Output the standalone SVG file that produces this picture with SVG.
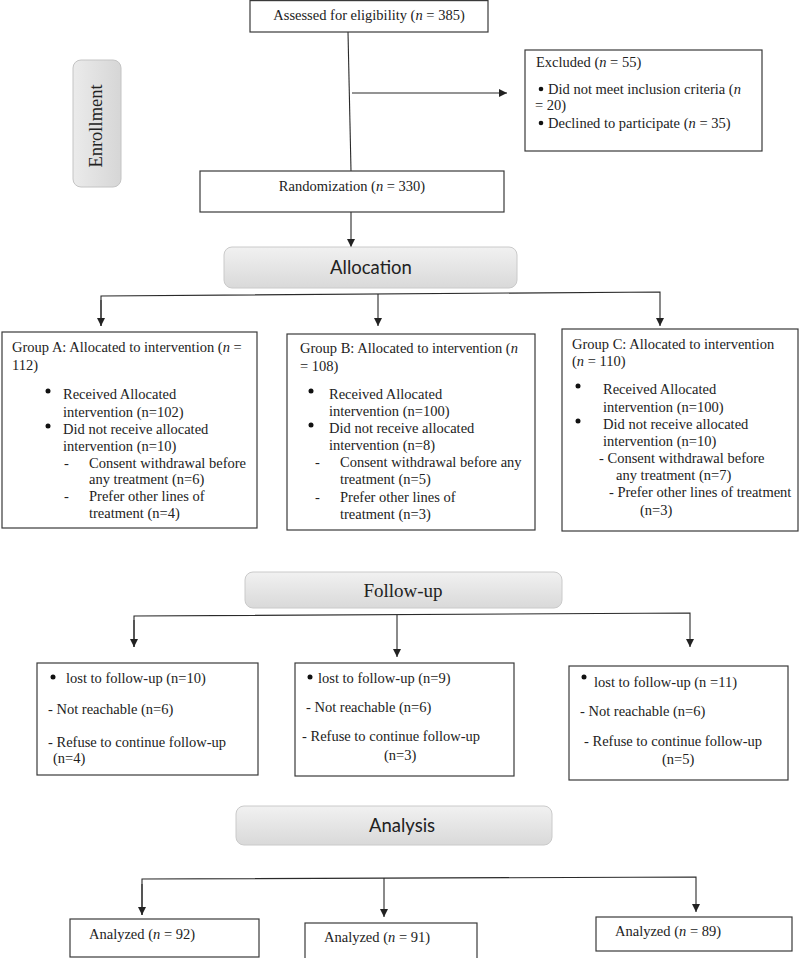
<svg xmlns="http://www.w3.org/2000/svg" width="800" height="958" viewBox="0 0 800 958">
<defs>
<linearGradient id="pill" x1="0" y1="0" x2="0" y2="1"><stop offset="0" stop-color="#f1f1f1"/><stop offset="1" stop-color="#d9d9d9"/></linearGradient>
<linearGradient id="pillv" x1="0" y1="0" x2="1" y2="0"><stop offset="0" stop-color="#ebebeb"/><stop offset="1" stop-color="#d6d6d6"/></linearGradient>
<marker id="ah" viewBox="0 0 10 10" refX="10" refY="5" markerWidth="8" markerHeight="8" markerUnits="userSpaceOnUse" orient="auto"><path d="M0,0 L10,5 L0,10 z" fill="#222"/></marker>
</defs>
<style>
.box{fill:#fff;stroke:#3a3a3a;stroke-width:1.2}
.pill{fill:url(#pill);stroke:#cacaca;stroke-width:1}
.t{font-family:"Liberation Serif","Times New Roman",serif;font-size:14.5px;fill:#222}
.s{font-family:Lato,"Liberation Sans",sans-serif;font-size:18.5px;fill:#222}
.c{stroke:#2a2a2a;stroke-width:1.1;fill:none}
.a{marker-end:url(#ah)}
.b{fill:#111}
</style>
<rect width="800" height="958" fill="#fff"/>

<g id="connectors">
<line class="c" x1="348" y1="32" x2="351" y2="171"/>
<line class="c a" x1="352" y1="93" x2="507" y2="93"/>
<line class="c a" x1="351" y1="212" x2="351" y2="247"/>
<polyline class="c" points="101,326 101,296 660,292 660,326" style="marker-end:url(#ah)"/>
<line class="c a" x1="378" y1="294" x2="378" y2="326"/>
<line class="c a" x1="101" y1="300" x2="101" y2="326"/>
<polyline class="c" points="134,647 134,616 690,613 690,647" style="marker-end:url(#ah)"/>
<line class="c a" x1="397" y1="615" x2="397" y2="657"/>
<line class="c a" x1="134" y1="620" x2="134" y2="647"/>
<polyline class="c" points="142,915 142,879 696,877 696,912" style="marker-end:url(#ah)"/>
<line class="c a" x1="384" y1="878" x2="384" y2="917"/>
<line class="c a" x1="142" y1="884" x2="142" y2="915"/>
</g>

<g id="enrollment">
<rect x="73" y="60" width="48" height="127" rx="8" fill="url(#pillv)" stroke="#c4c4c4"/>
<text class="t" style="font-size:18.5px" text-anchor="middle" transform="translate(102,126) rotate(-90)">Enrollment</text>
</g>

<g id="assessed">
<rect class="box" x="250" y="0.6" width="238" height="31.4"/>
<text class="t" x="369" y="20" text-anchor="middle">Assessed for eligibility (<tspan font-style="italic">n</tspan> = 385)</text>
</g>

<g id="excluded">
<rect class="box" x="525" y="50" width="237" height="101"/>
<text class="t" x="536" y="67">Excluded (<tspan font-style="italic">n</tspan> = 55)</text>
<circle class="b" cx="541" cy="89" r="2.3"/>
<text class="t" x="548" y="94">Did not meet inclusion criteria (<tspan font-style="italic">n</tspan></text>
<text class="t" x="535" y="110">= 20)</text>
<circle class="b" cx="541" cy="123" r="2.3"/>
<text class="t" x="548" y="128">Declined to participate (<tspan font-style="italic">n</tspan> = 35)</text>
</g>

<g id="randomization">
<rect class="box" x="200" y="171" width="304" height="41"/>
<text class="t" x="352" y="191" text-anchor="middle">Randomization (<tspan font-style="italic">n</tspan> = 330)</text>
</g>

<g id="allocation">
<rect class="pill" x="224" y="247" width="293" height="41" rx="8"/>
<text class="s" x="371" y="274" text-anchor="middle">Allocation</text>
</g>

<g id="groupA">
<rect class="box" x="2" y="332" width="255" height="196"/>
<text class="t" x="12" y="352">Group A: Allocated to intervention (<tspan font-style="italic">n</tspan> =</text>
<text class="t" x="12" y="370">112)</text>
<circle class="b" cx="48" cy="391" r="2.5"/>
<text class="t" x="63" y="399">Received Allocated</text>
<text class="t" x="63" y="417">intervention (n=102)</text>
<circle class="b" cx="48" cy="426" r="2.5"/>
<text class="t" x="63" y="434">Did not receive allocated</text>
<text class="t" x="63" y="451">intervention (n=10)</text>
<text class="t" x="64" y="468">-</text>
<text class="t" x="89" y="468">Consent withdrawal before</text>
<text class="t" x="89" y="484">any treatment (n=6)</text>
<text class="t" x="64" y="501">-</text>
<text class="t" x="89" y="501">Prefer other lines of</text>
<text class="t" x="89" y="518">treatment (n=4)</text>
</g>

<g id="groupB">
<rect class="box" x="287" y="334" width="248" height="196"/>
<text class="t" x="300" y="353">Group B: Allocated to intervention (<tspan font-style="italic">n</tspan></text>
<text class="t" x="300" y="371">= 108)</text>
<circle class="b" cx="311" cy="391" r="2.5"/>
<text class="t" x="329" y="399">Received Allocated</text>
<text class="t" x="329" y="416">intervention (n=100)</text>
<circle class="b" cx="311" cy="425" r="2.5"/>
<text class="t" x="329" y="433">Did not receive allocated</text>
<text class="t" x="329" y="450">intervention (n=8)</text>
<text class="t" x="315" y="467">-</text>
<text class="t" x="340" y="467">Consent withdrawal before any</text>
<text class="t" x="340" y="484">treatment (n=5)</text>
<text class="t" x="315" y="502">-</text>
<text class="t" x="340" y="502">Prefer other lines of</text>
<text class="t" x="340" y="519">treatment (n=3)</text>
</g>

<g id="groupC">
<rect class="box" x="562" y="329" width="236" height="202"/>
<text class="t" x="572" y="349">Group C: Allocated to intervention</text>
<text class="t" x="572" y="366">(<tspan font-style="italic">n</tspan> = 110)</text>
<circle class="b" cx="578" cy="386" r="2.5"/>
<text class="t" x="603" y="394">Received Allocated</text>
<text class="t" x="603" y="412">intervention (n=100)</text>
<circle class="b" cx="578" cy="421" r="2.5"/>
<text class="t" x="603" y="429">Did not receive allocated</text>
<text class="t" x="603" y="446">intervention (n=10)</text>
<text class="t" x="599" y="463">- Consent withdrawal before</text>
<text class="t" x="616" y="480">any treatment (n=7)</text>
<text class="t" x="609" y="497">-  Prefer other lines of treatment</text>
<text class="t" x="640" y="515">(n=3)</text>
</g>

<g id="followup">
<rect class="pill" x="245" y="572" width="317" height="36" rx="8"/>
<text class="t" style="font-size:19px" x="403" y="597" text-anchor="middle">Follow-up</text>
</g>

<g id="fu1">
<rect class="box" x="37" y="663" width="221" height="112"/>
<circle class="b" cx="53" cy="677" r="2.5"/>
<text class="t" x="66" y="683">lost to follow-up (n=10)</text>
<text class="t" x="48" y="714">- Not reachable (n=6)</text>
<text class="t" x="48" y="747">- Refuse to continue follow-up</text>
<text class="t" x="53" y="763">(n=4)</text>
</g>

<g id="fu2">
<rect class="box" x="295" y="663" width="219" height="113"/>
<circle class="b" cx="310" cy="677" r="2.5"/>
<text class="t" x="318" y="683">lost to follow-up (n=9)</text>
<text class="t" x="306" y="712">- Not reachable (n=6)</text>
<text class="t" x="302" y="741">- Refuse to continue follow-up</text>
<text class="t" x="384" y="760">(n=3)</text>
</g>

<g id="fu3">
<rect class="box" x="569" y="666" width="219" height="114"/>
<circle class="b" cx="584" cy="677" r="2.5"/>
<text class="t" x="594" y="687">lost to follow-up (n =11)</text>
<text class="t" x="580" y="716">- Not reachable (n=6)</text>
<text class="t" x="584" y="746">- Refuse to continue follow-up</text>
<text class="t" x="662" y="764">(n=5)</text>
</g>

<g id="analysis">
<rect class="pill" x="236" y="806" width="316" height="39" rx="8"/>
<text class="s" x="402" y="832" text-anchor="middle">Analysis</text>
</g>

<g id="an1">
<rect class="box" x="70" y="919" width="189" height="38"/>
<text class="t" x="89" y="939">Analyzed (<tspan font-style="italic">n</tspan> = 92)</text>
</g>
<g id="an2">
<rect class="box" x="305" y="923" width="172" height="36"/>
<text class="t" x="324" y="942">Analyzed (<tspan font-style="italic">n</tspan> = 91)</text>
</g>
<g id="an3">
<rect class="box" x="596" y="917" width="196" height="34"/>
<text class="t" x="615" y="936">Analyzed (<tspan font-style="italic">n</tspan> = 89)</text>
</g>
</svg>
